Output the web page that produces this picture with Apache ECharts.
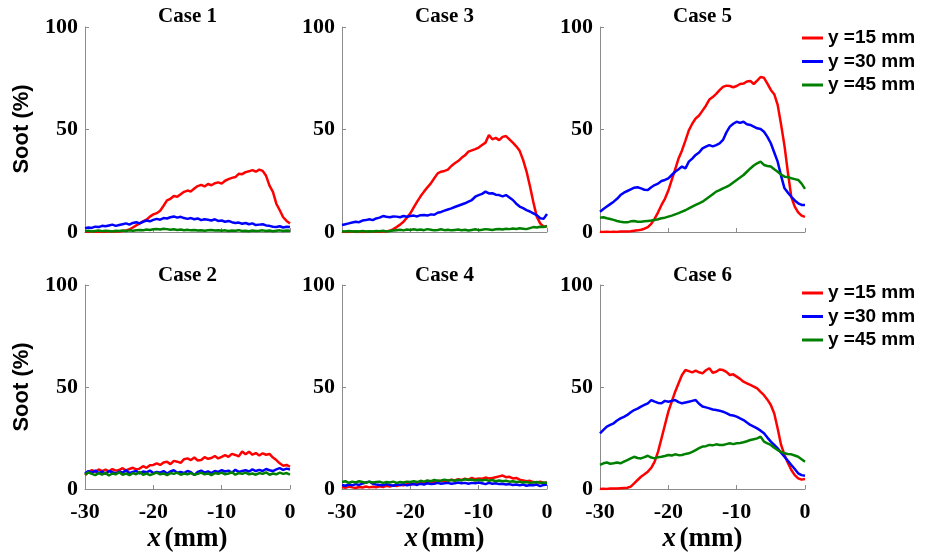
<!DOCTYPE html>
<html><head><meta charset="utf-8">
<script src="https://cdn.jsdelivr.net/npm/echarts@6/dist/echarts.min.js"></script>
<style>html,body{margin:0;padding:0;background:#fff}#c{width:925px;height:557px}</style>
</head><body><div id="c"></div>
<script>
const X = [-30,-29.5,-29,-28.5,-28,-27.5,-27,-26.5,-26,-25.5,-25,-24.5,-24,-23.5,-23,-22.5,-22,-21.5,-21,-20.5,-20,
-19.5,-19,-18.5,-18,-17.5,-17,-16.5,-16,-15.5,-15,-14.5,-14,-13.5,-13,-12.5,-12,-11.5,-11,-10.5,-10,
-9.5,-9,-8.5,-8,-7.5,-7,-6.5,-6,-5.5,-5,-4.5,-4,-3.5,-3,-2.5,-2,-1.5,-1,-0.5,0];
const seriesNames = ['y =15 mm','y =30 mm','y =45 mm'];
const caseTitles = ['Case 1','Case 3','Case 5','Case 2','Case 4','Case 6'];
const xTicks = [-30,-20,-10,0];
const yTicks = [0,50,100];

// Case 1
const c1r = [0.2,0,0.3,0.1,0,0.2,0.1,0.3,0.2,0.4,0.3, 0.5,0.8,1.2,2.2,3.2,4.2,5.2,6,7.5,8.6, 9.2,10.4,12.8,15.4,16.2,17.6,17.2,18.4,19.6,20.2, 19.8,21.2,22.4,23,22.2,23.4,22.8,23.8,24.2,23.6, 25,25.8,26.4,26.8,28.4,28.2,29.2,29.6,30.2,29.4, 30.4,29.8,27.4,22.6,19.6,13.8,10.6,7.2,5.4,4.2];
const c1b = [1.8,2.2,2.0,2.6,2.4,3.0,2.8,3.2,3.6,3.0,3.4, 3.8,4.2,3.6,4.4,4.8,4.2,5.0,5.6,5.2,5.9, 6.4,6.0,6.8,6.6,7.2,7.6,7.0,7.4,6.8,6.4, 6.8,6.2,6.6,5.8,6.2,6.0,5.6,6.2,5.4,5.6, 5.0,5.4,4.8,4.4,4.6,4.0,4.4,3.8,4.2,3.4, 3.6,3.8,3.2,3.0,2.6,2.4,2.8,2.2,2.6,2.4];
const c1g = [0.4,0.6,0.3,0.5,0.7,0.4,0.6,0.5,0.3,0.6,0.5, 0.7,0.5,0.8,0.6,0.9,1.0,0.8,1.2,1.0,1.3, 1.5,1.2,1.6,1.4,1.1,1.3,1.0,1.2,0.9,1.1, 0.8,1.0,0.7,0.9,0.6,0.8,1.0,0.7,0.9,0.6, 0.8,0.5,0.7,0.6,0.9,0.5,0.6,0.4,0.7,0.5, 0.6,0.8,0.5,0.7,0.4,0.6,0.8,0.5,0.7,0.6];
// Case 3
const c3r = [0,0.1,0,0.2,0,0.1,0,0.1,0,0.2,0.1, 0.1,0.2,0.3,0.6,1.4,2.4,3.6,5,7,9.1, 12,14.8,17.4,19.7,21.8,23.7,26.2,28.6,29.4,29.8, 30.4,32.2,33.5,34.6,36.2,37.4,39.2,39.8,40.4,41.2, 42.4,43.6,47.3,45.2,45.9,44.8,46.4,46.8,45.2,43.6, 41.8,39.6,35.2,29.6,22.4,14.6,7.5,4.2,2.6,2.8];
const c3b = [3.4,3.8,4.2,4.6,5.0,4.8,5.6,5.8,6.2,5.8,6.6, 7.0,7.8,7.4,7.2,7.6,7.5,7.2,7.8,7.4,7.8, 8.0,7.6,8.2,8.3,8.0,8.6,8.4,9.4,9.8,10.4, 11.0,11.5,12.2,12.8,13.4,14.0,14.8,15.6,17.2,18.0, 18.6,19.7,18.8,18.9,18.2,18.0,17.4,18.0,16.8,15.6, 13.8,12.4,11.6,10.7,10.0,9.1,8.2,6.7,6.4,8.8];
const c3g = [0.4,0.3,0.5,0.2,0.4,0.3,0.5,0.2,0.4,0.3,0.5, 0.4,0.6,0.3,0.5,0.7,0.9,1.1,0.8,1.2,1.0, 1.3,1.0,1.2,0.9,1.4,1.1,0.8,1.0,1.3,0.9, 1.1,0.8,1.0,1.2,0.9,1.1,0.7,1.0,1.3,0.9, 1.1,1.4,1.2,1.0,1.3,1.5,1.2,1.6,1.4,1.7, 1.5,1.8,1.6,1.4,1.9,2.4,2.2,2.6,2.4,2.9];
// Case 5
const c5r = [0,0,0.1,0,0.1,0,0.2,0.2,0.3,0.4,0.6, 0.8,1.1,1.6,2.4,4,6.5,9.6,13.2,16.2,20.2, 25.4,30.6,35.9,39.8,44.6,49.6,52.8,55.4,56.8,59.2, 61.6,64.6,65.8,67.4,69.2,70.8,71.4,71.2,70.6,71.2, 72.2,72.4,73.4,73.7,72.2,73.8,75.6,75.2,72.4,69.3, 67.2,62,52.4,42,29,17,12.4,9.6,8,7.4];
const c5b = [9.9,11.2,12.4,13.6,14.8,16.2,18.0,19.2,20.0,20.8,21.6, 21.8,21.3,20.6,20.5,21.8,22.9,23.6,24.9,25.4,26.2, 27.8,29.4,30.6,31.9,31.0,34.3,35.8,37.6,38.8,40.8, 41.6,42.4,41.8,42.4,43.2,44.9,48.6,51.4,52.8,53.8, 53.2,53.8,52.6,52.2,51.4,50.6,50.2,48.9,46.4,43.3, 38.8,34.3,27.4,21.3,19.2,17.2,15.4,14.0,13.2,13.2];
const c5g = [7.0,7.2,6.7,6.3,5.9,5.4,5.0,4.8,4.7,5.2,5.4, 5.0,5.0,5.2,5.4,5.6,5.9,6.2,6.7,7.0,7.5, 8.0,8.6,9.2,9.9,10.6,11.5,12.4,13.2,14.0,14.8, 16.0,17.2,18.4,19.7,20.4,21.3,22.0,22.9,24.2,25.4, 26.6,27.8,29.4,31.0,32.4,33.5,34.3,32.7,32.2,31.9, 30.6,29.4,28.0,27.0,26.8,26.2,25.8,25.4,23.6,21.0];
// Case 2
const c2r = [6.9,8.2,9.3,8.4,9.6,8.8,9.5,8.6,9.8,9.0,9.3, 10.2,9.1,9.8,10.4,9.6,10.0,11.2,10.4,11.6,11.8, 12.6,11.8,13.0,13.4,12.2,13.8,13.4,12.8,14.6,15.0, 14.2,15.4,14.0,14.2,15.6,14.8,15.2,16.2,15.0,15.8, 16.6,15.8,17.2,16.7,16.0,18.4,17.0,18.3,16.8,17.6, 16.4,17.5,16.8,17.2,15.4,14.2,12.6,11.4,11.8,10.9];
const c2b = [7.6,8.8,8.0,9.0,7.8,8.6,7.4,8.8,8.2,7.6,8.6, 8.0,9.2,7.8,8.4,8.8,7.6,8.6,8.2,9.0,7.8, 8.4,8.0,8.8,7.6,8.6,9.2,8.0,8.4,7.8,8.8, 8.2,6.8,8.4,9.0,8.0,8.6,7.8,8.8,8.4,9.2, 8.6,9.0,8.0,9.4,8.4,8.8,9.2,8.6,9.6,8.8, 9.4,8.8,9.8,9.2,8.8,9.6,10.2,9.4,10.0,9.6];
const c2g = [7.0,8.2,7.4,6.8,7.8,7.0,8.0,6.6,7.6,7.2,8.2, 7.0,7.6,6.8,7.8,7.2,8.4,7.0,7.6,6.8,7.4, 8.0,7.2,7.6,6.8,7.8,7.4,8.0,7.0,7.6,7.2, 7.8,7.0,7.4,8.0,7.2,7.6,6.8,7.8,7.4,8.0, 7.2,7.6,8.2,7.0,7.8,7.4,8.0,7.2,7.6,7.0, 7.8,7.4,8.2,7.0,7.6,7.2,8.0,7.4,7.8,7.0];
// Case 4
const c4r = [1.0,0.6,1.2,0.8,0.5,1.0,0.7,1.2,0.8,1.1,0.9, 1.3,1.0,1.6,1.2,1.8,1.5,2.0,1.8,2.4,2.2, 2.6,2.4,3.0,2.8,3.2,3.6,3.4,4.0,3.8,4.2, 4.0,4.6,4.2,4.8,4.4,5.0,4.6,5.4,4.8,5.2, 5.0,5.6,5.2,5.4,5.8,6.2,6.6,5.8,6.0,5.2, 5.4,4.6,4.2,3.8,4.0,3.4,3.2,3.6,3.0,3.2];
const c4b = [2.0,1.6,2.2,1.8,2.4,2.0,2.6,3.2,3.6,2.6,2.2, 2.0,1.8,2.4,2.0,1.6,2.2,2.0,2.4,1.8,2.2, 2.4,2.0,2.6,2.2,2.8,2.4,2.6,3.0,2.6,2.8, 3.0,2.6,2.8,3.2,2.8,3.0,2.6,3.0,2.8,3.2, 2.8,2.4,3.0,2.6,2.8,2.4,2.6,2.2,2.4,2.0, 2.2,1.8,2.2,1.6,2.0,1.8,2.2,1.4,2.0,2.2];
const c4g = [3.4,3.8,3.0,3.6,3.2,3.8,3.4,3.0,3.6,3.2,3.4, 3.6,3.0,3.4,3.2,3.6,3.0,3.4,3.2,3.6,3.4, 3.8,3.4,4.0,3.6,4.2,3.8,4.4,4.0,4.2,4.6, 4.2,4.4,4.0,4.6,4.2,4.8,4.4,4.6,4.2,4.5, 4.2,4.6,4.0,4.4,3.8,4.2,3.8,4.0,3.6,3.8, 3.4,3.6,3.2,3.4,3.0,3.2,3.4,3.0,3.2,3.0];
// Case 6
const c6r = [0,0.1,0,0.2,0.3,0.3,0.4,0.5,0.6,1.2,2.8, 4.4,6,7.2,8.5,10.4,13.4,18.3,24.8,31.4,37.9, 42.8,47.7,51.8,55.9,58.3,57.8,57.2,58.0,57.2,56.7, 58.2,59.2,57.0,57.5,58.6,58.3,57.4,55.9,56.2,55.1, 54.0,52.6,51.8,51.0,50.2,49.3,47.6,46.0,43.8,41.2, 37.0,29.7,21.6,16.7,12.8,9.3,6.8,5.2,4.6,4.9];
const c6b = [27.3,29.0,30.6,31.4,32.2,33.6,34.6,35.4,36.3,37.6,38.7, 39.4,40.4,41.2,42.0,43.6,42.8,42.2,42.0,43.2,42.8, 43.2,43.6,42.6,42.0,42.4,42.8,43.2,43.6,41.8,40.4, 40.0,39.5,39.0,38.7,38.4,37.9,37.2,36.3,36.0,35.5, 34.6,33.8,32.6,31.4,30.6,29.7,28.6,27.3,25.2,23.2, 21.6,19.9,17.8,15.8,13.8,11.8,9.8,7.7,6.8,6.5];
const c6g = [11.8,12.6,13.0,12.4,12.6,13.0,12.6,13.4,14.2,15.0,15.8, 15.2,15.0,15.6,16.3,15.4,15.0,15.6,15.8,16.2,16.7, 16.4,17.0,16.6,16.7,17.2,17.5,18.2,19.1,20.0,20.8, 21.0,21.6,21.4,21.9,21.6,21.6,22.0,22.4,22.0,22.4, 22.6,22.9,23.4,24.0,24.4,24.8,25.7,23.2,22.4,21.6, 20.2,19.1,18.2,17.5,17.2,17.0,16.4,15.8,14.6,13.4];

const panels = [[c1r,c1b,c1g],[c3r,c3b,c3g],[c5r,c5b,c5g],[c2r,c2b,c2g],[c4r,c4b,c4g],[c6r,c6b,c6g]];
const colors = ['#ff0000','#0000ff','#008000'];
const lefts = [85,342,600];
const tops = [27,285];
const W = 205, H = [205,204];
const serif = 'Liberation Serif, Times New Roman, serif';
const sans = 'Liberation Sans, Arial, sans-serif';
const axisGray = '#8c8c8c';

const grid=[], xAxis=[], yAxis=[], series=[], title=[], graphic=[];
panels.forEach((p,i)=>{
  const r = Math.floor(i/3), c = i%3;
  grid.push({left:lefts[c], top:tops[r], width:W, height:H[r]});
  xAxis.push({type:'value', gridIndex:i, min:xTicks[0], max:xTicks[xTicks.length-1], interval:10,
    axisLine:{onZero:false, lineStyle:{color:axisGray,width:1}},
    axisTick:{inside:true,length:4,lineStyle:{color:axisGray}},
    splitLine:{show:false},
    axisLabel:{show:r===1, margin:12, color:'#000', fontFamily:serif, fontWeight:'bold', fontSize:22}});
  yAxis.push({type:'value', gridIndex:i, min:yTicks[0], max:yTicks[yTicks.length-1], interval:50,
    axisLine:{show:true, onZero:false, lineStyle:{color:axisGray,width:1}},
    axisTick:{show:true,inside:true,length:4,lineStyle:{color:axisGray}},
    splitLine:{show:false},
    axisLabel:{margin:7, color:'#000', fontFamily:serif, fontWeight:'bold', fontSize:22}});
  title.push({text:caseTitles[i], left:lefts[c]+W/2, top:r===0?6:265, textAlign:'center', padding:0,
    textStyle:{fontFamily:serif, fontWeight:'bold', fontSize:21, color:'#000'}});
  p.forEach((vals,k)=>{
    series.push({type:'line', name:seriesNames[k], xAxisIndex:i, yAxisIndex:i, showSymbol:false, symbol:'none',
      data:X.map((x,j)=>[x,vals[j]]), lineStyle:{color:colors[k], width:2.5}, itemStyle:{color:colors[k]},
      animation:false, silent:true});
  });
});
[129,387].forEach(cy=>{
  graphic.push({type:'text', x:22, y:cy, rotation:Math.PI/2,
    style:{text:'Soot (%)', fontFamily:sans, fontWeight:'bold', fontSize:22, fill:'#000', textAlign:'center', textVerticalAlign:'middle'}});
});
lefts.forEach(l=>{
  graphic.push({type:'text', x:l+W/2, y:539,
    style:{text:'{i|x} {b|(mm)}', textAlign:'center', textVerticalAlign:'middle',
      rich:{i:{fontFamily:serif, fontStyle:'italic', fontWeight:'bold', fontSize:27, fill:'#000'},
            b:{fontFamily:serif, fontWeight:'bold', fontSize:27, fill:'#000'}}}});
});
const legendBase = {orient:'vertical', left:802, itemWidth:21, itemHeight:3, icon:'rect', itemGap:3.5, padding:0,
  data:seriesNames, selectedMode:false,
  textStyle:{fontFamily:sans, fontWeight:'bold', fontSize:19, color:'#000', lineHeight:20, padding:[0,0,0,0]}};
const chart = echarts.init(document.getElementById('c'), null, {renderer:'canvas'});
chart.setOption({
  backgroundColor:'#fff', animation:false,
  color:colors,
  title, grid, xAxis, yAxis, series, graphic:{elements:graphic},
  legend:[Object.assign({}, legendBase, {top:28}), Object.assign({}, legendBase, {top:283})]
});
</script></body></html>
